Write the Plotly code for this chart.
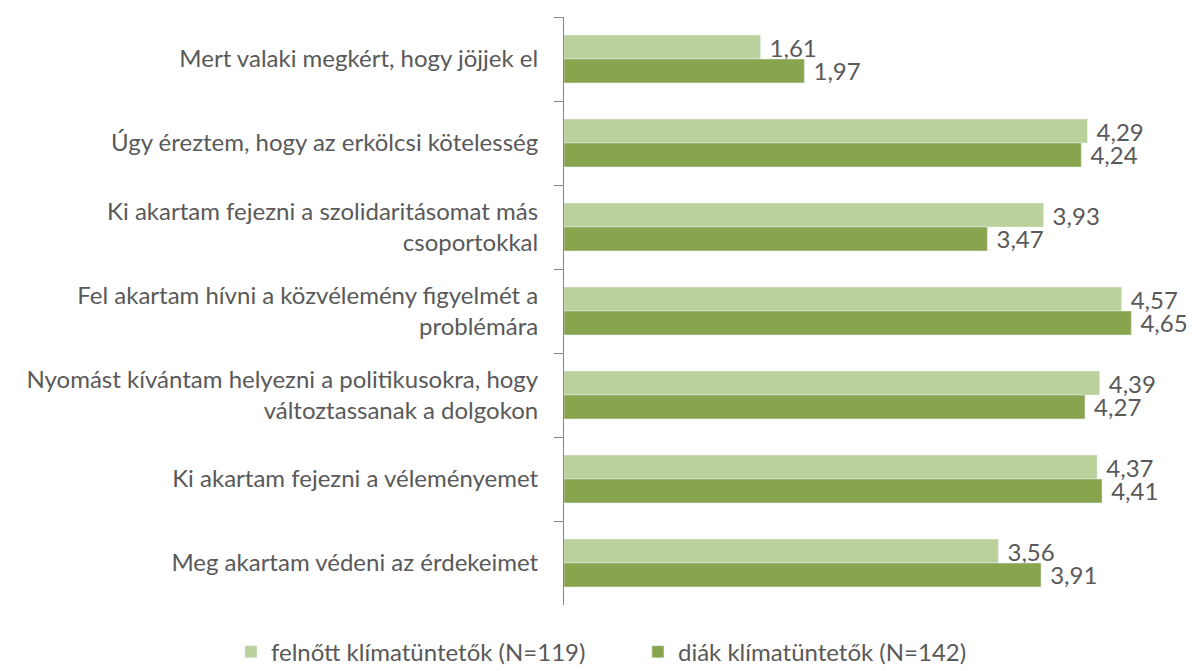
import plotly.graph_objects as go

categories = [
    "Mert valaki megkért, hogy jöjjek el",
    "Úgy éreztem, hogy az erkölcsi kötelesség",
    "Ki akartam fejezni a szolidaritásomat más<br>csoportokkal",
    "Fel akartam hívni a közvélemény figyelmét a<br>problémára",
    "Nyomást kívántam helyezni a politikusokra, hogy<br>változtassanak a dolgokon",
    "Ki akartam fejezni a véleményemet",
    "Meg akartam védeni az érdekeimet",
]
felnott = [1.61, 4.29, 3.93, 4.57, 4.39, 4.37, 3.56]
diak = [1.97, 4.24, 3.47, 4.65, 4.27, 4.41, 3.91]
series_names = ["felnőtt klímatüntetők (N=119)", "diák klímatüntetők (N=142)"]

FONT = "Lato"
TXT = "#595959"
PAD = "\u00a0"

fig = go.Figure()
fig.add_trace(go.Bar(
    y=categories, x=felnott, name=series_names[0], orientation="h",
    marker=dict(color="#BBD19B"),
    texttemplate=PAD + "%{x:.2f}", textposition="outside", constraintext="none",
    textfont=dict(family=FONT, size=24, color=TXT), cliponaxis=False,
))
fig.add_trace(go.Bar(
    y=categories, x=diak, name=series_names[1], orientation="h",
    marker=dict(color="#88A44D"),
    texttemplate=PAD + "%{x:.2f}", textposition="outside", constraintext="none",
    textfont=dict(family=FONT, size=24, color=TXT), cliponaxis=False,
))

fig.update_layout(
    width=1187, height=663,
    barmode="group", bargap=0.43, bargroupgap=0,
    separators=", ",
    plot_bgcolor="white", paper_bgcolor="white",
    margin=dict(l=556, r=21, t=9, b=66, autoexpand=False),
    font=dict(family=FONT, size=24, color=TXT),
    xaxis=dict(range=[0, 5], visible=False, showgrid=False, zeroline=False),
    yaxis=dict(
        autorange="reversed", showline=True, linecolor="#868686", linewidth=1,
        ticks="outside", ticklen=9, tickcolor="#868686", tickson="boundaries",
        ticklabelstandoff=20, automargin=False,
        tickfont=dict(family=FONT, size=24, color=TXT),
    ),
    legend=dict(
        orientation="h", xref="paper", x=-0.546, xanchor="left",
        yref="paper", y=-0.042, yanchor="top",
        font=dict(family=FONT, size=24, color=TXT), itemwidth=30,
        entrywidth=362, traceorder="normal",
    ),
    uniformtext=dict(mode=False),
)

fig.write_html("out.html")
